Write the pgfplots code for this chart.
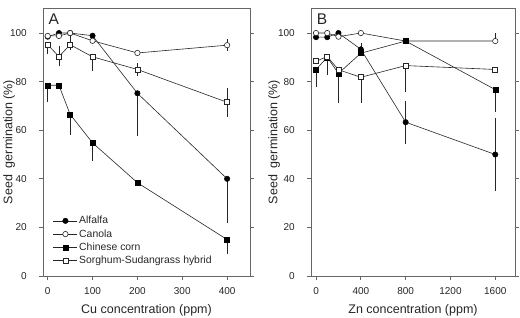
\documentclass[border=0pt]{standalone}
\usepackage{pgfplots}
\pgfplotsset{compat=1.18}
\usepackage{fontspec}
\setmainfont{Liberation Sans}

\definecolor{frame}{gray}{0.40}
\definecolor{ink}{gray}{0.15}

\pgfplotsset{
  seedaxis/.style={
    scale only axis,
    anchor=south west,
    height=268pt,
    ymin=0, ymax=110.3,
    ytick={0,20,40,60,80,100},
    axis line style={frame, line width=0.8pt},
    tick style={frame, line width=0.8pt},
    major tick length=4pt,
    tick align=outside,
    xtick pos=lower,
    ytick pos=both,
    yticklabel pos=lower,
    tick label style={font=\fontsize{10}{12}\selectfont, text=ink},
    yticklabel style={anchor=east, inner sep=0pt, xshift=-12pt},
    xticklabel style={anchor=base, inner sep=0pt, yshift=-14pt},
    every axis y label/.style={rotate=90, anchor=center, font=\fontsize{12.5}{14}\selectfont, text=ink},
    every axis x label/.style={anchor=base, font=\fontsize{12.5}{14}\selectfont, text=ink},
    /pgf/number format/assume math mode=true,
    /pgf/number format/1000 sep={},
    legend image code/.code={\draw[mark repeat=2,mark phase=2,##1] plot coordinates {(0pt,0pt) (12pt,0pt) (24pt,0pt)};},
    every axis plot/.append style={line width=0.6pt, ink},
    error bars/y dir=both,
    error bars/y explicit,
    error bars/error mark=none,
    error bars/error bar style={line width=0.6pt, ink},
  },
  alfalfa/.style={mark=*, mark size=2.7pt, mark options={fill=black, draw=black, line width=0.5pt}},
  canola/.style={mark=*, mark size=2.7pt, mark options={fill=white, draw=ink, line width=0.6pt}},
  corn/.style={mark=square*, mark size=2.5pt, mark options={fill=black, draw=black, line width=0.5pt}},
  sorghum/.style={mark=square*, mark size=2.5pt, mark options={fill=white, draw=ink, line width=0.6pt}},
}

\begin{document}
\begin{tikzpicture}[x=1pt,y=1pt]
\useasboundingbox (0,0) rectangle (520,317);

% Panel A: copper
\begin{axis}[seedaxis,
  at={(43pt,41pt)}, width=207pt,
  xmin=-10.5, xmax=451,
  xtick={0,100,200,300,400},
  xlabel={Cu concentration (ppm)},
  ylabel={Seed~~germination (\%)},
  every axis y label/.append style={at={(axis description cs:-0.164,0.5)}},
  every axis x label/.append style={at={(axis description cs:0.5,-0.139)}},
  legend style={draw=none, fill=none, at={(axis description cs:0.048,0.229)}, anchor=north west,
    font=\fontsize{10.4}{12}\selectfont, text=ink, inner sep=0pt, row sep=1.2pt,
    nodes={inner sep=1.5pt}},
  legend cell align=left,
]
\addplot[alfalfa] coordinates {
  (0,98.5)   += (0,0) -= (0,0)
  (25,100)   += (0,0) -= (0,0)
  (50,100)   += (0,0) -= (0,0)
  (100,98.9) += (0,0) -= (0,0)
  (200,75.2) += (0,0) -= (0,17.5)
  (400,40)   += (0,0) -= (0,18)
};
\addlegendentry{Alfalfa}
\addplot[canola] coordinates {
  (0,98.8)   += (0,0) -= (0,0)
  (25,98.8)  += (0,0) -= (0,0)
  (50,100)   += (0,0) -= (0,0)
  (100,96.8) += (0,0) -= (0,0)
  (200,91.8) += (0,0) -= (0,0)
  (400,95)   += (0,2.5) -= (0,2.5)
};
\addlegendentry{Canola}
\addplot[corn] coordinates {
  (0,78.5)   += (0,0) -= (0,7)
  (25,78.5)  += (0,0) -= (0,0)
  (50,66.5)  += (0,0) -= (0,8.3)
  (100,54.8) += (0,0) -= (0,7.5)
  (200,38.4) += (0,0) -= (0,0)
  (400,15)   += (0,0) -= (0,5.8)
};
\addlegendentry{Chinese corn}
\addplot[sorghum] coordinates {
  (0,95.2)   += (0,0) -= (0,3.8)
  (25,90.3)  += (0,4.4) -= (0,3.8)
  (50,95.2)  += (0,4.7) -= (0,2.3)
  (100,90.2) += (0,0) -= (0,6)
  (200,85)   += (0,2.6) -= (0,2.7)
  (400,71.5) += (0,6) -= (0,6)
};
\addlegendentry{Sorghum-Sudangrass hybrid}
\node[anchor=base west, inner sep=0pt, font=\fontsize{15.5}{17}\selectfont, text=ink]
  at (rel axis cs:0.026,0.94) {A};
\end{axis}

% Panel B: zinc
\begin{axis}[seedaxis,
  at={(311pt,41pt)}, width=204pt,
  xmin=-45, xmax=1776,
  xtick={0,400,800,1200,1600},
  xlabel={Zn concentration (ppm)},
  ylabel={Seed~~germination (\%)},
  every axis y label/.append style={at={(axis description cs:-0.181,0.5)}},
  every axis x label/.append style={at={(axis description cs:0.5,-0.139)}},
]
\addplot[alfalfa] coordinates {
  (0,98.3)    += (0,0) -= (0,0)
  (100,98.3)  += (0,0) -= (0,0)
  (200,100)   += (0,0) -= (0,0)
  (400,93.3)  += (0,2.5) -= (0,2.5)
  (800,63.3)  += (0,8.8) -= (0,8.8)
  (1600,50)   += (0,15) -= (0,15)
};
\addplot[canola] coordinates {
  (0,100)     += (0,0) -= (0,0)
  (100,100)   += (0,0) -= (0,0)
  (200,98.5)  += (0,0) -= (0,0)
  (400,100)   += (0,0) -= (0,0)
  (800,96.7)  += (0,0) -= (0,0)
  (1600,96.7) += (0,3.3) -= (0,0)
};
\addplot[corn] coordinates {
  (0,85)      += (0,0) -= (0,7.4)
  (100,90)    += (0,0) -= (0,0)
  (200,83.4)  += (0,0) -= (0,12.2)
  (400,91.7)  += (0,0) -= (0,0)
  (800,96.7)  += (0,0) -= (0,0)
  (1600,76.7) += (0,0) -= (0,9)
};
\addplot[sorghum] coordinates {
  (0,88.4)    += (0,0) -= (0,0)
  (100,90.3)  += (0,0) -= (0,7.5)
  (200,84.9)  += (0,0) -= (0,0)
  (400,81.8)  += (0,0) -= (0,10.6)
  (800,86.6)  += (0,0) -= (0,10.7)
  (1600,85)   += (0,0) -= (0,0)
};
\node[anchor=base west, inner sep=0pt, font=\fontsize{15.5}{17}\selectfont, text=ink]
  at (rel axis cs:0.028,0.94) {B};
\end{axis}
\end{tikzpicture}
\end{document}
